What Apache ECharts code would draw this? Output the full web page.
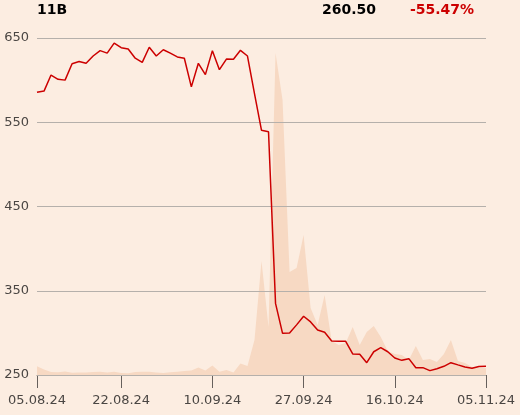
<!DOCTYPE html>
<html>
<head>
<meta charset="utf-8">
<script src="https://cdn.jsdelivr.net/npm/echarts@6/dist/echarts.min.js"></script>
<style>
html,body{margin:0;padding:0;background:#fcede1;}
#chart{width:520px;height:415px;}
</style>
</head>
<body>
<div id="chart"></div>
<script>
const ticker = "11B";
const lastPrice = "260.50";
const changePct = "-55.47%";

const dates = [
"05.08.24","06.08.24","07.08.24","08.08.24","09.08.24",
"12.08.24","13.08.24","14.08.24","16.08.24",
"19.08.24","20.08.24","21.08.24","22.08.24","23.08.24",
"26.08.24","27.08.24","28.08.24","29.08.24","30.08.24",
"02.09.24","03.09.24","04.09.24","05.09.24","06.09.24",
"09.09.24","10.09.24","11.09.24","12.09.24","13.09.24",
"16.09.24","17.09.24","18.09.24","19.09.24","20.09.24",
"23.09.24","24.09.24","25.09.24","26.09.24","27.09.24",
"30.09.24","01.10.24","02.10.24","03.10.24","04.10.24",
"07.10.24","08.10.24","09.10.24","10.10.24","11.10.24",
"14.10.24","15.10.24","16.10.24","17.10.24","18.10.24",
"21.10.24","22.10.24","23.10.24","24.10.24","25.10.24",
"28.10.24","29.10.24","30.10.24","31.10.24",
"04.11.24","05.11.24"
];

const price = [
585.5,587,606,601,600,619.5,622,620,628.6,635,
632,644,638.5,637,626,621,639,628.6,636,632,
627.5,626,592,620,606.5,635,612.4,625,624.7,635.4,
628.6,584,540.4,538.8,335,299.5,299.8,309.5,319.7,313,
303.4,300.7,290.4,290,290,275,274.6,264.6,277.6,282.4,
277.6,270.2,267.4,269.4,258.7,258.7,255.2,257.5,260.3,264.6,
262,259.5,258,260,260.5
];

const volume = [
8.7,5.5,3,2.7,3.5,2.3,2.5,2.5,3,3.3,
2.5,3.3,2,1.8,3,3.3,3.3,2.5,2,2.8,
3.3,4,4.5,7.5,4.5,9.5,3.3,5,2.5,11.5,
9,35,114,48,322,275,103,107,140,67,
50,80,34,30,32,48,30,43,49,38,
24,21,20,15,29,15,16,13,21,35,
14,12,8,7,7
];

const yTicks = [250,350,450,550,650];
const xTickIdx = [0,12,25,38,51,64];

const chart = echarts.init(document.getElementById('chart'));
const font = 'DejaVu Sans';
const titleStyle = (c) => ({fontFamily: font, fontSize: 14, fontWeight: 'bold', color: c});
chart.setOption({
  backgroundColor: '#fcede1',
  animation: false,
  textStyle: {fontFamily: font},
  title: [
    {text: ticker, left: 37, top: 3, padding: 0, textStyle: titleStyle('#000')},
    {text: lastPrice, left: 322, top: 3, padding: 0, textStyle: titleStyle('#000')},
    {text: changePct, left: 410, top: 3, padding: 0, textStyle: titleStyle('#cc0000')}
  ],
  grid: {left: 37, right: 34, top: 38, bottom: 40, containLabel: false},
  xAxis: {
    type: 'category',
    data: dates,
    boundaryGap: false,
    axisLine: {show: true, lineStyle: {color: '#8a8581', width: 1}},
    axisTick: {show: true, length: 13, lineStyle: {color: '#66605c'},
      interval: (i) => xTickIdx.includes(i)},
    axisLabel: {color: '#4a4643', fontSize: 13, fontFamily: font, margin: 19,
      interval: (i) => xTickIdx.includes(i)},
    splitLine: {show: false}
  },
  yAxis: [
    {
      type: 'value', min: yTicks[0], max: yTicks[yTicks.length-1], interval: 100,
      position: 'left', z: 1,
      axisLine: {show: false}, axisTick: {show: false},
      axisLabel: {color: '#4a4643', fontSize: 13, fontFamily: font, margin: 8},
      splitLine: {show: true, lineStyle: {color: '#b5b0ab', width: 1}}
    },
    {
      type: 'value', min: 0, max: 337, show: false,
      splitLine: {show: false}
    }
  ],
  series: [
    {
      name: 'volume', type: 'line', yAxisIndex: 1, data: volume, z: 0,
      symbol: 'none', lineStyle: {width: 0}, silent: true,
      areaStyle: {color: '#f7d9c3', opacity: 1}
    },
    {
      name: 'price', type: 'line', yAxisIndex: 0, data: price, z: 3,
      symbol: 'none', lineStyle: {color: '#cc0000', width: 1.5}
    }
  ]
});
</script>
</body>
</html>
